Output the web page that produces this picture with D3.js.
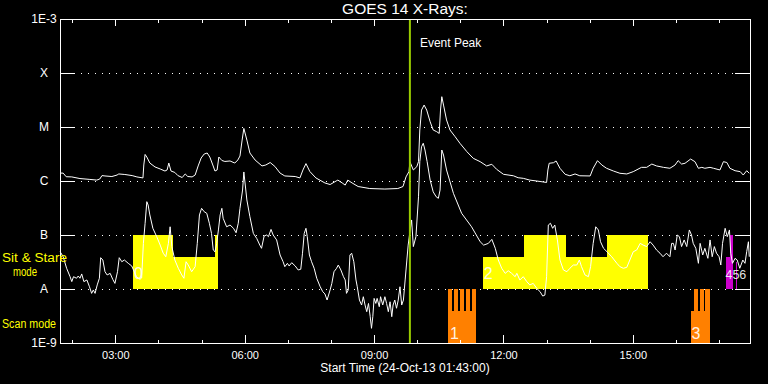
<!DOCTYPE html>
<html>
<head>
<meta charset="utf-8">
<script src="https://cdn.jsdelivr.net/npm/d3@7"></script>
<style>
  html, body { margin: 0; padding: 0; background: #000; }
  svg { display: block; }
  text { font-family: "Liberation Sans", Arial, sans-serif; }
</style>
</head>
<body>
<svg width="768" height="384"></svg>
<script>
// GOES 14 X-ray flux, 24-Oct-13, times in decimal UT hours
var startHour = 1 + 43 / 60;   // 01:43:00
var spanHours = 16;
var eventPeak = 9.83;

// 1-8 A channel (upper curve)
var longTime = [
  1.72,1.79,1.86,1.99,2.18,2.41,2.57,2.64,2.69,2.76,
  2.92,3.04,3.08,3.22,3.39,3.50,3.64,3.66,3.69,3.73,
  3.80,3.92,4.04,4.15,4.20,4.24,4.29,4.38,4.45,4.55,
  4.62,4.68,4.78,4.85,4.92,4.99,5.06,5.13,5.19,5.26,
  5.31,5.36,5.40,5.47,5.54,5.66,5.77,5.84,5.89,5.94,
  5.98,6.05,6.12,6.24,6.40,6.49,6.59,6.70,6.82,6.93,
  7.17,7.28,7.35,7.42,7.51,7.65,7.86,7.98,8.12,8.16,
  8.26,8.33,8.39,8.49,8.63,8.90,9.25,9.55,9.67,9.74,
  9.81,9.83,9.91,9.99,10.03,10.06,10.10,10.16,10.22,10.30,
  10.37,10.45,10.51,10.54,10.57,10.61,10.68,10.76,10.88,10.99,
  11.15,11.30,11.46,11.61,11.73,11.84,12.00,12.23,12.34,12.46,
  12.61,12.77,13.00,13.03,13.06,13.16,13.22,13.31,13.43,13.54,
  13.66,13.77,14.01,14.08,14.18,14.28,14.39,14.55,14.70,14.86,
  15.01,15.20,15.32,15.44,15.55,15.71,15.86,15.98,16.05,16.13,
  16.21,16.34,16.44,16.52,16.60,16.67,16.79,16.87,17.02,17.10,
  17.18,17.25,17.37,17.49,17.56,17.64,17.70
];
var longFlux = [
  1.4e-6,1.4e-6,1.2e-6,1.19e-6,1.11e-6,1.07e-6,1.04e-6,1.09e-6,1.26e-6,1.24e-6,
  1.21e-6,1.29e-6,1.35e-6,1.32e-6,1.26e-6,1.19e-6,1.14e-6,1.98e-6,3.1e-6,2.78e-6,
  2.15e-6,1.82e-6,1.67e-6,1.53e-6,1.6e-6,2.15e-6,1.53e-6,1.44e-6,1.26e-6,1.16e-6,
  1.35e-6,1.21e-6,1.19e-6,1.29e-6,1.9e-6,2.67e-6,3.16e-6,3.3e-6,2.78e-6,1.98e-6,
  1.53e-6,1.6e-6,2.78e-6,2.4e-6,2.3e-6,2.35e-6,2.15e-6,2.45e-6,2.9e-6,5.74e-6,
  9.4e-6,5.74e-6,3.3e-6,2.45e-6,1.9e-6,1.98e-6,2.2e-6,1.86e-6,1.4e-6,1.24e-6,
  1.21e-6,1.14e-6,1.6e-6,2.1e-6,1.5e-6,1.14e-6,9.2e-7,8.6e-7,1.0e-6,1.04e-6,
  9.2e-7,8.4e-7,1.04e-6,9.2e-7,7.9e-7,7.25e-7,7.1e-7,7.25e-7,7.9e-7,1.19e-6,
  1.5e-6,2.28e-6,1.6e-6,1.84e-6,2.28e-6,8.8e-6,2.06e-5,2.55e-5,2.06e-5,1.25e-5,
  8.8e-6,8.2e-6,7.6e-6,2.06e-5,3.64e-5,2.55e-5,1.35e-5,8.8e-6,6.6e-6,5.0e-6,
  3.5e-6,2.63e-6,2.28e-6,1.9e-6,2.04e-6,1.65e-6,1.33e-6,1.25e-6,1.15e-6,1.12e-6,
  1.04e-6,1.0e-6,9.4e-7,1.6e-6,2.13e-6,2.18e-6,2.35e-6,1.72e-6,1.33e-6,1.25e-6,
  1.35e-6,1.25e-6,1.24e-6,1.72e-6,2.38e-6,1.98e-6,1.72e-6,1.53e-6,1.39e-6,1.35e-6,
  1.49e-6,1.79e-6,1.79e-6,2.06e-6,1.9e-6,1.79e-6,1.72e-6,1.98e-6,2.38e-6,2.06e-6,
  2.13e-6,2.55e-6,2.28e-6,1.72e-6,1.79e-6,1.72e-6,1.79e-6,1.72e-6,1.6e-6,2.28e-6,
  2.2e-6,1.72e-6,1.55e-6,1.49e-6,1.29e-6,1.55e-6,1.39e-6
];

// 0.5-4 A channel (lower curve)
var shortTime = [
  1.72,1.79,1.87,1.95,1.99,2.03,2.10,2.14,2.18,2.22,
  2.27,2.34,2.40,2.45,2.49,2.53,2.58,2.63,2.66,2.71,
  2.76,2.81,2.88,2.94,2.99,3.05,3.09,3.15,3.21,3.30,
  3.38,3.42,3.49,3.57,3.61,3.65,3.69,3.73,3.76,3.80,
  3.87,3.96,4.04,4.11,4.17,4.23,4.27,4.31,4.38,4.46,
  4.54,4.59,4.64,4.69,4.77,4.85,4.90,4.95,5.00,5.06,
  5.12,5.18,5.23,5.27,5.31,5.35,5.39,5.43,5.47,5.50,
  5.58,5.66,5.74,5.80,5.85,5.89,5.95,5.98,6.05,6.12,
  6.20,6.28,6.35,6.39,6.45,6.51,6.55,6.61,6.66,6.74,
  6.82,6.89,6.93,6.99,7.03,7.09,7.17,7.24,7.30,7.34,
  7.38,7.42,7.45,7.50,7.55,7.61,7.67,7.75,7.81,7.86,
  7.91,7.98,8.02,8.07,8.13,8.17,8.23,8.29,8.33,8.36,
  8.40,8.44,8.48,8.53,8.58,8.61,8.66,8.71,8.75,8.79,
  8.83,8.87,8.91,8.94,8.97,9.00,9.04,9.07,9.12,9.15,
  9.20,9.25,9.29,9.33,9.37,9.41,9.44,9.48,9.52,9.56,
  9.60,9.64,9.68,9.72,9.76,9.79,9.83,9.87,9.91,9.97,
  10.03,10.06,10.10,10.14,10.18,10.23,10.30,10.37,10.44,10.49,
  10.53,10.57,10.61,10.68,10.84,11.03,11.26,11.46,11.54,11.65,
  11.73,11.81,11.88,11.96,12.04,12.11,12.19,12.27,12.31,12.38,
  12.46,12.54,12.61,12.69,12.77,12.85,12.91,12.96,13.00,13.04,
  13.09,13.14,13.19,13.25,13.31,13.39,13.47,13.54,13.62,13.70,
  13.76,13.81,13.89,13.97,14.02,14.08,14.14,14.20,14.25,14.32,
  14.40,14.51,14.63,14.70,14.78,14.86,14.93,15.01,15.09,15.17,
  15.24,15.32,15.40,15.47,15.55,15.63,15.70,15.78,15.86,15.90,
  15.94,15.98,16.03,16.08,16.13,16.19,16.25,16.31,16.36,16.40,
  16.46,16.52,16.56,16.62,16.67,16.74,16.79,16.84,16.89,16.94,
  17.00,17.04,17.08,17.14,17.19,17.24,17.27,17.31,17.37,17.42,
  17.48,17.55,17.60,17.64,17.68,17.70
];
var shortFlux = [
  4.9e-8,3.96e-8,2.42e-8,1.69e-8,1.37e-8,1.69e-8,1.58e-8,1.74e-8,1.58e-8,1.9e-8,
  1.37e-8,1.47e-8,1.1e-8,8.3e-9,9.6e-9,8.3e-9,1.19e-8,1.58e-8,3.8e-8,3.44e-8,
  2.09e-8,1.82e-8,1.95e-8,1.51e-8,1.27e-8,2.09e-8,3.8e-8,3.2e-8,3.44e-8,2.99e-8,
  2.67e-8,2.25e-8,1.69e-8,1.51e-8,1.6e-8,7.0e-8,1.65e-7,4.14e-7,3.59e-7,2.35e-7,
  1.33e-7,9.3e-8,6.5e-8,4.6e-8,3.96e-8,7.0e-8,1.42e-7,6.1e-8,3.44e-8,2.42e-8,
  1.82e-8,1.58e-8,3.2e-8,2.78e-8,2.09e-8,2.59e-8,7.0e-8,2.35e-7,3.12e-7,2.7e-7,
  2.52e-7,1.65e-7,1.07e-7,5.27e-8,4.9e-8,7.0e-8,1.24e-7,2.35e-7,3.12e-7,2.04e-7,
  1.42e-7,1.53e-7,1.33e-7,1.1e-7,1.65e-7,3.12e-7,6.8e-7,1.47e-6,4.45e-7,2.18e-7,
  1.07e-7,8.6e-8,6.5e-8,5.67e-8,9.6e-8,1.0e-7,9.3e-8,1.27e-7,1.0e-7,8.1e-8,
  4.26e-8,3.2e-8,2.59e-8,2.99e-8,2.67e-8,3.07e-8,2.67e-8,2.25e-8,2.32e-8,4.6e-8,
  1.07e-7,1.33e-7,9.3e-8,4.26e-8,3.2e-8,2.42e-8,1.58e-8,1.1e-8,8.9e-9,8.1e-9,
  6.25e-9,9.6e-9,1.27e-8,2.09e-8,2.42e-8,2.78e-8,2.25e-8,1.69e-8,1.47e-8,8.3e-9,
  9.6e-9,4.26e-8,4.6e-8,3.2e-8,1.47e-8,1.1e-8,6.25e-9,5.05e-9,7.2e-9,5.05e-9,
  3.8e-9,5.4e-9,3.07e-9,1.87e-9,3.07e-9,6.7e-9,5.4e-9,6.7e-9,4.7e-9,7.2e-9,
  5.05e-9,7.2e-9,5.4e-9,3.8e-9,5.8e-9,3.07e-9,5.05e-9,6.25e-9,4.4e-9,6.25e-9,
  1.1e-8,5.05e-9,6.25e-9,1.47e-8,3.44e-8,6.5e-8,1.14e-7,1.9e-7,6.1e-8,9.3e-8,
  5.1e-7,2.28e-6,4.3e-6,5.0e-6,3.75e-6,2.28e-6,1.04e-6,6.3e-7,5.1e-7,4.78e-7,
  6.8e-7,3.75e-6,3.03e-6,1.6e-6,5.9e-7,2.52e-7,1.42e-7,7.5e-8,6.5e-8,7.0e-8,
  8.3e-8,5.67e-8,3.44e-8,2.42e-8,1.95e-8,2.18e-8,1.95e-8,1.69e-8,1.95e-8,1.47e-8,
  1.69e-8,1.37e-8,1.19e-8,1.27e-8,1.03e-8,8.9e-9,7.4e-9,7.7e-9,1.69e-8,1.53e-7,
  1.65e-7,1.33e-7,1.53e-7,8.1e-8,3.44e-8,2.25e-8,2.09e-8,2.42e-8,2.78e-8,2.78e-8,
  3.44e-8,2.59e-8,1.82e-8,1.69e-8,2.59e-8,7.0e-8,1.42e-7,1.24e-7,7.5e-8,5.67e-8,
  4.9e-8,3.96e-8,2.99e-8,2.59e-8,2.42e-8,2.52e-8,3.44e-8,4.9e-8,5.27e-8,7.0e-8,
  6.5e-8,6.1e-8,7.5e-8,6.5e-8,5.27e-8,4.6e-8,3.96e-8,4.6e-8,3.96e-8,7.0e-8,
  7.0e-8,5.27e-8,1.0e-7,9.3e-8,6.1e-8,8.1e-8,6.1e-8,1.24e-7,1.0e-7,7.0e-8,
  5.67e-8,2.99e-8,7.0e-8,4.26e-8,5.67e-8,3.7e-8,8.1e-8,3.96e-8,6.1e-8,4.6e-8,
  3.96e-8,2.78e-8,7.0e-8,1.33e-7,9.3e-8,1.24e-7,4.6e-8,2.99e-8,3.7e-8,3.44e-8,
  2.42e-8,3.44e-8,2.99e-8,4.9e-8,7.5e-8,3.96e-8
];

// flux class ticks
var classFlux = [1e-9, 1e-8, 1e-7, 1e-6, 1e-5, 1e-4, 1e-3];
var classLabel = ["1E-9", "A", "B", "C", "M", "X", "1E-3"];
var majorHours = [3, 6, 9, 12, 15];
var minorHours = [2, 4, 5, 7, 8, 10, 11, 13, 14, 16, 17];

// observing mode blocks (level: 1 = full row, 0.6 = reduced)
var sitStart = [3.41, 4.34, 5.31, 11.52, 12.48, 13.45, 14.40];
var sitEnd   = [4.34, 5.38, 5.38, 12.48, 13.45, 14.40, 15.35];
var sitLevel = [1, 0.6, 1, 0.6, 1, 0.6, 1];

var scanStart = [10.71, 10.71, 10.85, 10.99, 11.13, 11.27, 16.35, 16.42, 16.56, 16.68];
var scanEnd   = [11.36, 10.81, 10.95, 11.08, 11.22, 11.36, 16.79, 16.51, 16.64, 16.79];
var scanLevel = [0.6, 1, 1, 1, 1, 1, 0.6, 1, 1, 1];

var otherStart = [17.16, 17.25, 17.40];
var otherEnd   = [17.32, 17.32, 17.42];
var otherLevel = [0.6, 1, 0.5];

var obsLabel = ["0", "1", "2", "3", "4", "5", "6"];
var obsTime  = [3.43, 10.76, 11.54, 16.36, 17.15, 17.31, 17.47];
var obsRow   = ["sit", "scan", "sit", "scan", "sit", "sit", "sit"];

var svg = d3.select("svg"),
    margin = {top: 19, right: 18, bottom: 41, left: 60},
    width = +svg.attr("width") - margin.left - margin.right,
    height = +svg.attr("height") - margin.top - margin.bottom;

svg.append("rect").attr("width", 768).attr("height", 384).attr("fill", "#000");

var x = d3.scaleLinear()
          .domain([startHour, startHour + spanHours])
          .range([margin.left, margin.left + width]);

var y = d3.scaleLog()
          .domain([1e-9, 1e-3])
          .range([margin.top + height, margin.top]);

var rows = {sit: [1e-8, 1e-7], scan: [1e-9, 1e-8]};
function rowY(row, level) {
  var lo = y(rows[row][0]), hi = y(rows[row][1]);
  return lo - level * (lo - hi);
}

function hhmm(h) { return d3.format("02")(h) + ":00"; }

// dotted grid at class levels
svg.append("g")
  .selectAll("line")
  .data(classFlux.slice(1, -1))
  .enter().append("line")
    .attr("x1", x.range()[0]).attr("x2", x.range()[1])
    .attr("y1", function(d) { return Math.round(y(d)) + 0.5; })
    .attr("y2", function(d) { return Math.round(y(d)) + 0.5; })
    .attr("stroke", "#fff")
    .attr("stroke-dasharray", "1,6");

// mode blocks
function blocks(row, starts, ends, levels, color) {
  svg.append("g")
    .selectAll("rect")
    .data(starts.map(function(s, i) { return {s: s, e: ends[i], l: levels[i]}; }))
    .enter().append("rect")
      .attr("x", function(d) { return x(d.s); })
      .attr("width", function(d) { return x(d.e) - x(d.s); })
      .attr("y", function(d) { return rowY(row, d.l); })
      .attr("height", function(d) { return rowY(row, 0) - rowY(row, d.l); })
      .attr("fill", color)
      .attr("shape-rendering", "crispEdges");
}
blocks("sit", sitStart, sitEnd, sitLevel, "#ffff00");
blocks("scan", scanStart, scanEnd, scanLevel, "#ff8000");
blocks("sit", otherStart, otherEnd, otherLevel, "#cc00cc");

// block numbers; the crowded ones at the end are set smaller
svg.append("g")
  .selectAll("text")
  .data(obsLabel)
  .enter().append("text")
    .attr("x", function(d, i) { return x(obsTime[i]); })
    .attr("y", function(d, i) { return rowY(obsRow[i], 0) - (obsRow[i] == "sit" ? 10 : 4); })
    .attr("fill", "#fff")
    .attr("fill-opacity", 0.9)
    .style("font-size", function(d, i) { return i >= 4 ? "12.5px" : "16px"; })
    .text(function(d) { return d; });

// flux curves
var line = d3.line()
  .x(function(d) { return x(d[0]); })
  .y(function(d) { return y(d[1]); });

[[longTime, longFlux], [shortTime, shortFlux]].forEach(function(s) {
  svg.append("path")
    .datum(d3.zip(s[0], s[1]))
    .attr("d", line)
    .attr("fill", "none")
    .attr("stroke", "#fff")
    .attr("stroke-width", 1)
    .attr("stroke-linejoin", "round");
});

// event peak marker
svg.append("line")
  .attr("x1", x(eventPeak)).attr("x2", x(eventPeak))
  .attr("y1", y.range()[1]).attr("y2", y.range()[0])
  .attr("stroke", "#99cc00")
  .attr("stroke-width", 2);

svg.append("text")
  .attr("x", x(eventPeak) + 10)
  .attr("y", 47)
  .attr("fill", "#fff")
  .style("font-size", "12px")
  .text("Event Peak");

// axes
function styleAxis(g) {
  g.selectAll(".domain").attr("stroke", "#fff").attr("shape-rendering", "crispEdges");
  g.selectAll(".tick line").attr("stroke", "#fff").attr("shape-rendering", "crispEdges");
  g.selectAll(".tick text").attr("fill", "#fff")
    .style("font-family", "'Liberation Sans', Arial, sans-serif");
}

svg.append("g")
    .attr("transform", "translate(" + margin.left + ",0)")
    .call(d3.axisLeft(y).tickValues(classFlux)
            .tickFormat(function(d, i) { return classLabel[i]; })
            .tickSizeInner(-15).tickSizeOuter(0).tickPadding(16))
    .call(styleAxis)
    .call(function(g) {
      g.selectAll(".tick text").attr("text-anchor", "middle").style("font-size", "12px");
    });

svg.append("g")
    .attr("transform", "translate(" + (margin.left + width) + ",0)")
    .call(d3.axisRight(y).tickValues(classFlux).tickFormat("")
            .tickSizeInner(-15).tickSizeOuter(0))
    .call(styleAxis);

svg.append("g")
    .attr("transform", "translate(0," + (margin.top + height) + ")")
    .call(d3.axisBottom(x).tickValues(majorHours).tickFormat(hhmm)
            .tickSizeInner(-8).tickSizeOuter(0).tickPadding(8))
    .call(styleAxis)
    .call(function(g) { g.selectAll(".tick text").style("font-size", "11px"); });

svg.append("g")
    .attr("transform", "translate(0," + (margin.top + height) + ")")
    .call(d3.axisBottom(x).tickValues(minorHours).tickFormat("")
            .tickSizeInner(-3).tickSizeOuter(0))
    .call(styleAxis);

svg.append("g")
    .attr("transform", "translate(0," + margin.top + ")")
    .call(d3.axisTop(x).tickValues(majorHours).tickFormat("")
            .tickSizeInner(-7).tickSizeOuter(0))
    .call(styleAxis);

svg.append("g")
    .attr("transform", "translate(0," + margin.top + ")")
    .call(d3.axisTop(x).tickValues(minorHours).tickFormat("")
            .tickSizeInner(-4).tickSizeOuter(0))
    .call(styleAxis);

// titles and mode captions
svg.append("text")
    .attr("x", (x.range()[0] + x.range()[1]) / 2)
    .attr("y", 14)
    .attr("text-anchor", "middle")
    .attr("fill", "#fff")
    .style("font-size", "15.5px")
    .text("GOES 14 X-Rays:");

svg.append("text")
    .attr("x", (x.range()[0] + x.range()[1]) / 2)
    .attr("y", 372)
    .attr("text-anchor", "middle")
    .attr("fill", "#fff")
    .style("font-size", "12px")
    .text("Start Time (24-Oct-13 01:43:00)");

var captions = [
  {t: "Sit & Stare", x: 2, y: 262, w: 65},
  {t: "mode", x: 13, y: 276, w: 24},
  {t: "Scan mode", x: 2, y: 328, w: 54}
];
svg.append("g")
  .selectAll("text")
  .data(captions)
  .enter().append("text")
    .attr("x", function(d) { return d.x; })
    .attr("y", function(d) { return d.y; })
    .attr("textLength", function(d) { return d.w; })
    .attr("lengthAdjust", "spacingAndGlyphs")
    .attr("fill", "#ffff00")
    .style("font-size", "12px")
    .text(function(d) { return d.t; });
</script>
</body>
</html>
